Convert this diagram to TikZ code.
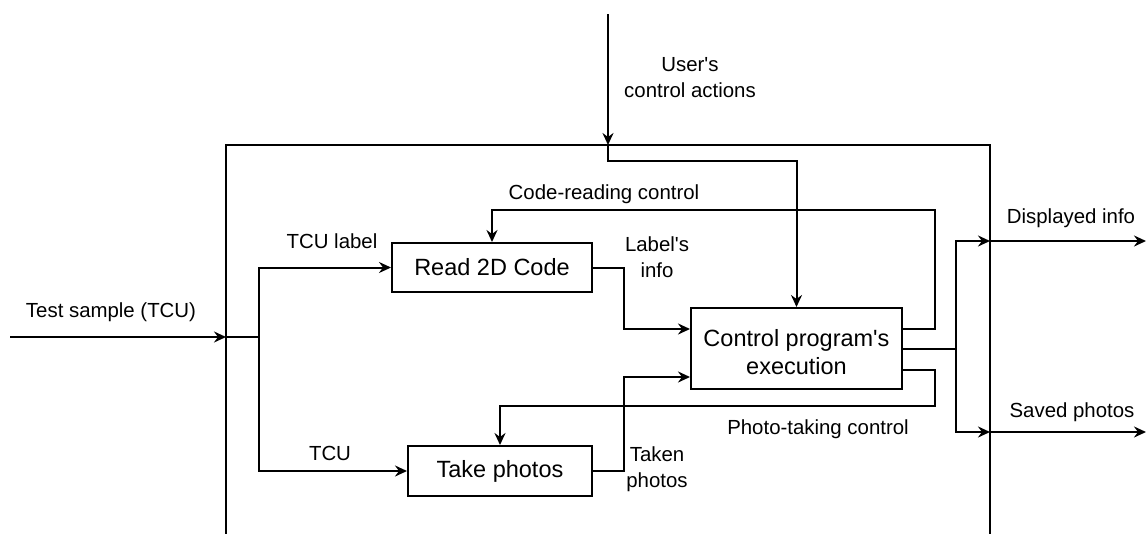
\documentclass[tikz,border=0pt]{standalone}
\usepackage{fontspec}
\setmainfont{Liberation Sans}
\usetikzlibrary{arrows.meta}
\tikzset{
  wire/.style={line width=2pt, line join=miter},
  arr/.style={wire, -{Stealth[length=12pt,width=11pt,inset=4pt]}},
  procbox/.style={draw, line width=2pt, inner sep=0pt, align=center,
    font=\fontsize{23.5}{28}\selectfont},
  boxtext/.style={inner sep=0pt, align=center, font=\fontsize{23.5}{28}\selectfont},
  lbl/.style={inner sep=0pt, align=center, font=\fontsize{20.4}{26}\selectfont},
}
\newcommand{\sq}{\textquotesingle}
\begin{document}
\begin{tikzpicture}[x=1pt, y=-1pt]
  \useasboundingbox (0,0) rectangle (1146,533);

  % system boundary (open at the bottom)
  \draw[wire] (226,545) -- (226,145) -- (990,145) -- (990,545);

  % process boxes
  \node[procbox, minimum width=200pt, minimum height=49pt] (read) at (492,267.5) {Read 2D Code};
  \node[procbox, minimum width=184pt, minimum height=50pt] (take) at (500,471) {Take photos};
  \node[procbox, minimum width=211pt, minimum height=81pt] (ctrl) at (796.5,348.5) {};
  \node[boxtext] (ctrltext) at (796.5,352) {Control program\sq s\\execution};

  % boundary points
  \coordinate (usrsrc) at (608,14);
  \coordinate (usrin) at (608,145);
  \coordinate (tssrc) at (10,337);
  \coordinate (tsin) at (226,337);
  \coordinate (split) at (259,337);
  \coordinate (outsplit) at (956,348.5);
  \coordinate (dispin) at (990,241);
  \coordinate (dispout) at (1146,241);
  \coordinate (savein) at (990,432);
  \coordinate (saveout) at (1146,432);

  % user control actions
  \draw[arr] (usrsrc) -- (usrin);
  \draw[arr] (usrin) -- (608,161) -| (ctrl.north);

  % test sample input
  \draw[arr] (tssrc) -- (tsin);
  \draw[wire] (tsin) -- (split);
  \draw[arr] (split) |- (read.west);
  \draw[arr] (split) |- (take.west);

  % results into the controller
  \draw[arr] (read.east) -- (624,267.5) |- (ctrl.west |- 0,329);
  \draw[arr] (take.east) -- (624,471) |- (ctrl.west |- 0,377);

  % control feedback
  \draw[arr] (ctrl.east |- 0,329) -- (935,329) -- (935,210) -| (read.north);
  \draw[arr] (ctrl.east |- 0,370) -- (935,370) -- (935,406) -| (take.north);

  % outputs
  \draw[wire] (ctrl.east) -- (outsplit);
  \draw[arr] (outsplit) |- (dispin);
  \draw[arr] (outsplit) |- (savein);
  \draw[arr] (dispin) -- (dispout);
  \draw[arr] (savein) -- (saveout);

  % labels
  \node[lbl] (lusr) at (690,78) {User\sq s\\control actions};
  \node[lbl] (lts) at (111,312) {Test sample (TCU)};
  \node[lbl] (ltcul) at (332,241) {TCU label};
  \node[lbl] (ltcu) at (330,453) {TCU};
  \node[lbl] (lcode) at (604,194) {Code-reading control};
  \node[lbl] (linfo) at (657,257) {Label\sq s\\info};
  \node[lbl] (ltaken) at (657,469) {Taken\\photos};
  \node[lbl] (lphoto) at (818,429) {Photo-taking control};
  \node[lbl] (ldisp) at (1071,218) {Displayed info};
  \node[lbl] (lsave) at (1072,412) {Saved photos};
\end{tikzpicture}
\end{document}
